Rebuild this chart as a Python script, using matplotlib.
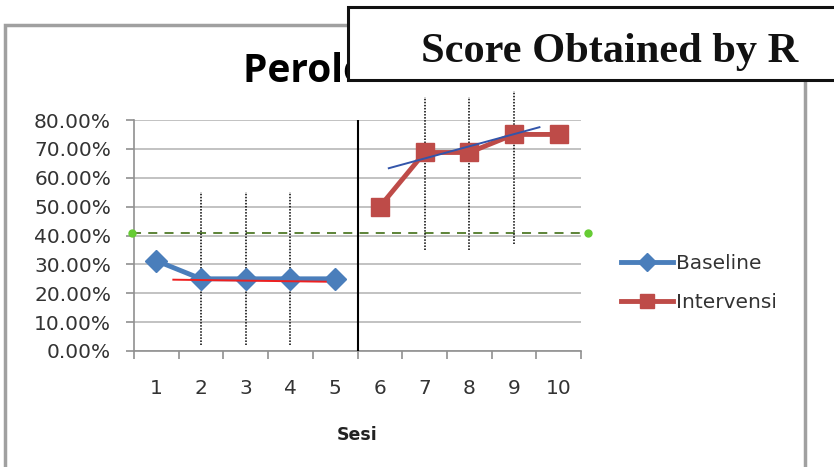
import matplotlib
matplotlib.use("Agg")
import matplotlib.pyplot as plt
from matplotlib.patches import Rectangle
from matplotlib.ticker import FuncFormatter, MultipleLocator

sessions = [1, 2, 3, 4, 5, 6, 7, 8, 9, 10]
baseline_x = [1, 2, 3, 4, 5]
baseline = [0.3125, 0.25, 0.25, 0.25, 0.25]
interv_x = [6, 7, 8, 9, 10]
intervensi = [0.50, 0.6875, 0.6875, 0.75, 0.75]
mean_level = 0.41
base_trend_x = [1.38, 4.79]
base_trend = [0.247, 0.240]
int_trend_x = [6.2, 9.57]
int_trend = [0.633, 0.775]
dot_lines_x = [2, 3, 4, 7, 8, 9]
dot_lines_lo = [0.02, 0.02, 0.02, 0.35, 0.35, 0.37]
dot_lines_hi = [0.55, 0.55, 0.55, 0.88, 0.88, 0.90]
phase_split = 5.5

W, H = 834, 467
fig = plt.figure(figsize=(W/100, H/100), dpi=100)
fig.patch.set_facecolor("white")

# outer chart border
fig.add_artist(Rectangle((5/W, -0.05), 800/W, 1 - 25/H + 0.05, transform=fig.transFigure,
                         fill=False, edgecolor="#a0a0a0", linewidth=2.5))

ax = fig.add_axes([134/W, 1 - 351/H, (581-134)/W, (351-120)/H])
ax.set_xlim(0.5, 10.5)
ax.set_ylim(0, 0.8)
ax.yaxis.set_major_locator(MultipleLocator(0.1))
ax.yaxis.set_major_formatter(FuncFormatter(lambda v, p: f"{v*100:.2f}%"))
ax.grid(axis="y", color="#b8b8b8", linewidth=1.2)
ax.set_axisbelow(True)
ax.set_xticks(sessions)
ax.set_xticklabels([str(s) for s in sessions])
ax.set_xticks([s + 0.5 for s in [0] + sessions], minor=True)
ax.tick_params(axis="x", which="major", length=0, pad=20.5, labelsize=14.5, colors="#333333")
ax.tick_params(axis="x", which="minor", length=6, color="#909090", width=1.2)
ax.tick_params(axis="y", length=6, color="#909090", width=1.2, labelsize=14.5, colors="#333333", pad=10.5)
for s in ["top", "right"]:
    ax.spines[s].set_visible(False)
ax.spines["left"].set_color("#909090")
ax.spines["bottom"].set_color("#909090")
ax.spines["left"].set_linewidth(1.2)
ax.spines["bottom"].set_linewidth(1.2)
ax.set_xlabel("Sesi", fontsize=12.5, fontweight="bold", labelpad=19.5, color="#222222")

# phase split line
ax.plot([phase_split, phase_split], [0, 0.8], color="black", linewidth=1.5, zorder=3)
# dotted session lines
for x, lo, hi in zip(dot_lines_x, dot_lines_lo, dot_lines_hi):
    ax.plot([x, x], [lo, hi], color="black", linestyle=(0, (1, 1)), linewidth=1.1, clip_on=False, zorder=4)
# mean level line
ax.plot([0.45, 10.65], [mean_level, mean_level], color="#4f7a28", linestyle=(0, (5, 4)), linewidth=1.3,
        marker="o", markersize=5, markerfacecolor="#66cc33", markeredgecolor="#66cc33", clip_on=False, zorder=3)

ax.plot(baseline_x, baseline, color="#4a7ebb", linewidth=3.5, marker="D", markersize=11, label="Baseline", zorder=5)
ax.plot(interv_x, intervensi, color="#be4b48", linewidth=3.5, marker="s", markersize=13, label="Intervensi", zorder=5)
ax.plot(base_trend_x, base_trend, color="#ee2020", linewidth=1.4, zorder=6)
ax.plot(int_trend_x, int_trend, color="#3355aa", linewidth=1.4, zorder=6)

leg = ax.legend(loc="center left", bbox_to_anchor=(603/W, 1 - 283/H), bbox_transform=fig.transFigure,
                frameon=False, fontsize=14.5, handlelength=2.6, handletextpad=0.1, labelspacing=1.0,
                markerscale=0.8)
for t in leg.get_texts():
    t.set_color("#333333")

# partially hidden title
fig.text(243/W, 1 - 82/H, "Perolehan Nilai R", fontsize=28, fontweight="bold", ha="left", va="baseline",
         color="black", family="Open Sans")

# overlay box
fig.add_artist(Rectangle((348/W, 1 - 80/H), 500/W, 73/H, transform=fig.transFigure,
                         facecolor="white", edgecolor="#111111", linewidth=2.2, zorder=20))
fig.text(610/W, 1 - 62/H, "Score Obtained by R", fontsize=30.5, fontweight="bold", ha="center", va="baseline",
         family="Liberation Serif", color="#111111", zorder=21)

fig.savefig("out.png", dpi=100)
